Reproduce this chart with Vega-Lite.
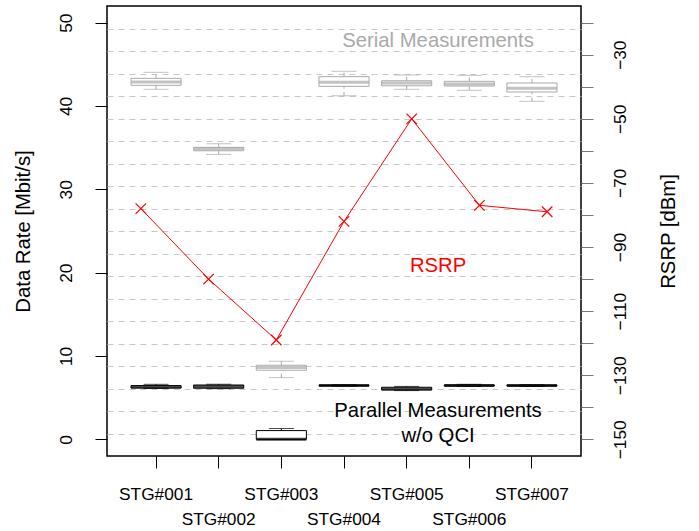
{
  "$schema": "https://vega.github.io/schema/vega-lite/v6.json",
  "width": 474,
  "height": 450,
  "autosize": {"type": "none"},
  "padding": {"left": 107, "top": 6, "right": 118, "bottom": 75},
  "background": "white",
  "config": {
    "font": "Liberation Sans",
    "view": {"stroke": "black", "strokeWidth": 1.5},
    "axis": {
      "labelFont": "Liberation Sans",
      "titleFont": "Liberation Sans",
      "labelColor": "black",
      "titleColor": "black",
      "tickColor": "black",
      "labelFontSize": 17.3,
      "titleFontSize": 20.3,
      "titleFontWeight": "normal"
    }
  },
  "datasets": {
    "boxes": [
      {"stg": "STG#001", "series": "Serial", "lower": 42.0, "q1": 42.48, "median": 42.88, "q3": 43.32, "upper": 44.04},
      {"stg": "STG#002", "series": "Serial", "lower": 34.19, "q1": 34.63, "median": 34.87, "q3": 35.03, "upper": 35.47},
      {"stg": "STG#003", "series": "Serial", "lower": 7.41, "q1": 8.29, "median": 8.61, "q3": 8.89, "upper": 9.37},
      {"stg": "STG#004", "series": "Serial", "lower": 41.23, "q1": 42.36, "median": 42.84, "q3": 43.52, "upper": 44.16},
      {"stg": "STG#005", "series": "Serial", "lower": 42.0, "q1": 42.43, "median": 42.76, "q3": 43.03, "upper": 43.72},
      {"stg": "STG#006", "series": "Serial", "lower": 41.88, "q1": 42.4, "median": 42.64, "q3": 42.96, "upper": 43.68},
      {"stg": "STG#007", "series": "Serial", "lower": 40.56, "q1": 41.68, "median": 42.12, "q3": 42.76, "upper": 43.52},
      {"stg": "STG#001", "series": "Parallel", "lower": 6.1, "q1": 6.16, "median": 6.28, "q3": 6.45, "upper": 6.6},
      {"stg": "STG#002", "series": "Parallel", "lower": 6.08, "q1": 6.13, "median": 6.33, "q3": 6.52, "upper": 6.61},
      {"stg": "STG#003", "series": "Parallel", "lower": 0, "q1": 0, "median": 0, "q3": 1.05, "upper": 1.3},
      {"stg": "STG#004", "series": "Parallel", "lower": 6.38, "q1": 6.42, "median": 6.46, "q3": 6.5, "upper": 6.55},
      {"stg": "STG#005", "series": "Parallel", "lower": 5.85, "q1": 5.93, "median": 6.05, "q3": 6.25, "upper": 6.35},
      {"stg": "STG#006", "series": "Parallel", "lower": 6.35, "q1": 6.4, "median": 6.45, "q3": 6.52, "upper": 6.6},
      {"stg": "STG#007", "series": "Parallel", "lower": 6.35, "q1": 6.4, "median": 6.45, "q3": 6.5, "upper": 6.55}
    ],
    "rsrp": [
      {"stg": "STG#001", "rsrp": -78},
      {"stg": "STG#002", "rsrp": -100},
      {"stg": "STG#003", "rsrp": -119},
      {"stg": "STG#004", "rsrp": -82},
      {"stg": "STG#005", "rsrp": -50},
      {"stg": "STG#006", "rsrp": -77},
      {"stg": "STG#007", "rsrp": -79}
    ],
    "notes": [
      {"note": "Serial Measurements", "pos": 5.5, "rate": 47.8},
      {"note": "RSRP", "pos": 5.5, "rate": 20.8},
      {"note": "Parallel Measurements\nw/o QCI", "pos": 5.5, "rate": 3.45}
    ]
  },
  "layer": [
    {
      "data": {"name": "boxes"},
      "encoding": {
        "x": {
          "field": "stg", "type": "nominal",
          "scale": {"paddingInner": 0.2, "paddingOuter": 0.383},
          "axis": {
            "title": null, "labelAngle": 0, "labelAlign": "center", "labelBaseline": "alphabetic",
            "tickSize": 12, "labelPadding": 31, "domain": false, "grid": false,
            "labelOverlap": false, "labelBound": false, "labelFlush": false, "labelLineHeight": 25,
            "labelExpr": "toNumber(substring(datum.value, 4)) % 2 == 0 ? ['', datum.value] : datum.value"
          }
        }
      },
      "layer": [
        {
          "mark": {"type": "rule", "strokeDash": [4, 3], "strokeWidth": 1},
          "encoding": {
            "y": {"field": "lower", "type": "quantitative", "scale": {"domain": [-2, 52], "nice": false, "zero": false},
              "axis": {"title": "Data Rate [Mbit/s]", "values": [0, 0.7, 3.4, 6.1, 8.8, 10, 11.5, 14.2, 16.9, 19.6, 20, 22.3, 25, 27.7, 30, 30.4, 33.1, 35.8, 38.5, 40, 41.2, 43.9, 46.6, 49.3, 50], "labelExpr": "datum.value % 10 == 0 ? datum.label : ''", "grid": true, "gridDash": [6, 5], "gridColor": "#c8c8c8", "gridWidth": 1, "gridOpacity": {"condition": {"test": "datum.value % 10 == 0", "value": 0}, "value": 1}, "tickOpacity": {"condition": {"test": "datum.value % 10 == 0", "value": 1}, "value": 0}, "domain": false, "tickSize": 12, "labelAngle": -90, "labelAlign": "center", "labelBaseline": "middle", "labelPadding": 29, "labelOverlap": false, "labelBound": false, "labelFlush": false, "titleAngle": -90, "titleAlign": "center", "titleBaseline": "middle", "titleX": -84, "titleY": 225}},
            "y2": {"field": "q1"},
            "color": {"field": "series", "type": "nominal", "scale": {"domain": ["Serial", "Parallel"], "range": ["#a9a9a9", "#000000"]}, "legend": null}
          }
        },
        {
          "mark": {"type": "rule", "strokeDash": [4, 3], "strokeWidth": 1},
          "encoding": {
            "y": {"field": "q3", "type": "quantitative", "scale": {"domain": [-2, 52], "nice": false, "zero": false},
              "axis": {"title": "Data Rate [Mbit/s]", "values": [0, 0.7, 3.4, 6.1, 8.8, 10, 11.5, 14.2, 16.9, 19.6, 20, 22.3, 25, 27.7, 30, 30.4, 33.1, 35.8, 38.5, 40, 41.2, 43.9, 46.6, 49.3, 50], "labelExpr": "datum.value % 10 == 0 ? datum.label : ''", "grid": true, "gridDash": [6, 5], "gridColor": "#c8c8c8", "gridWidth": 1, "gridOpacity": {"condition": {"test": "datum.value % 10 == 0", "value": 0}, "value": 1}, "tickOpacity": {"condition": {"test": "datum.value % 10 == 0", "value": 1}, "value": 0}, "domain": false, "tickSize": 12, "labelAngle": -90, "labelAlign": "center", "labelBaseline": "middle", "labelPadding": 29, "labelOverlap": false, "labelBound": false, "labelFlush": false, "titleAngle": -90, "titleAlign": "center", "titleBaseline": "middle", "titleX": -84, "titleY": 225}},
            "y2": {"field": "upper"},
            "color": {"field": "series", "type": "nominal", "scale": {"domain": ["Serial", "Parallel"], "range": ["#a9a9a9", "#000000"]}, "legend": null}
          }
        },
        {
          "mark": {"type": "tick", "size": 25, "thickness": 1},
          "encoding": {
            "y": {"field": "lower", "type": "quantitative", "scale": {"domain": [-2, 52], "nice": false, "zero": false},
              "axis": {"title": "Data Rate [Mbit/s]", "values": [0, 0.7, 3.4, 6.1, 8.8, 10, 11.5, 14.2, 16.9, 19.6, 20, 22.3, 25, 27.7, 30, 30.4, 33.1, 35.8, 38.5, 40, 41.2, 43.9, 46.6, 49.3, 50], "labelExpr": "datum.value % 10 == 0 ? datum.label : ''", "grid": true, "gridDash": [6, 5], "gridColor": "#c8c8c8", "gridWidth": 1, "gridOpacity": {"condition": {"test": "datum.value % 10 == 0", "value": 0}, "value": 1}, "tickOpacity": {"condition": {"test": "datum.value % 10 == 0", "value": 1}, "value": 0}, "domain": false, "tickSize": 12, "labelAngle": -90, "labelAlign": "center", "labelBaseline": "middle", "labelPadding": 29, "labelOverlap": false, "labelBound": false, "labelFlush": false, "titleAngle": -90, "titleAlign": "center", "titleBaseline": "middle", "titleX": -84, "titleY": 225}},
            "color": {"field": "series", "type": "nominal", "scale": {"domain": ["Serial", "Parallel"], "range": ["#a9a9a9", "#000000"]}, "legend": null}
          }
        },
        {
          "mark": {"type": "tick", "size": 25, "thickness": 1},
          "encoding": {
            "y": {"field": "upper", "type": "quantitative", "scale": {"domain": [-2, 52], "nice": false, "zero": false},
              "axis": {"title": "Data Rate [Mbit/s]", "values": [0, 0.7, 3.4, 6.1, 8.8, 10, 11.5, 14.2, 16.9, 19.6, 20, 22.3, 25, 27.7, 30, 30.4, 33.1, 35.8, 38.5, 40, 41.2, 43.9, 46.6, 49.3, 50], "labelExpr": "datum.value % 10 == 0 ? datum.label : ''", "grid": true, "gridDash": [6, 5], "gridColor": "#c8c8c8", "gridWidth": 1, "gridOpacity": {"condition": {"test": "datum.value % 10 == 0", "value": 0}, "value": 1}, "tickOpacity": {"condition": {"test": "datum.value % 10 == 0", "value": 1}, "value": 0}, "domain": false, "tickSize": 12, "labelAngle": -90, "labelAlign": "center", "labelBaseline": "middle", "labelPadding": 29, "labelOverlap": false, "labelBound": false, "labelFlush": false, "titleAngle": -90, "titleAlign": "center", "titleBaseline": "middle", "titleX": -84, "titleY": 225}},
            "color": {"field": "series", "type": "nominal", "scale": {"domain": ["Serial", "Parallel"], "range": ["#a9a9a9", "#000000"]}, "legend": null}
          }
        },
        {
          "mark": {"type": "bar", "fill": "white", "strokeWidth": 1},
          "encoding": {
            "y": {"field": "q1", "type": "quantitative", "scale": {"domain": [-2, 52], "nice": false, "zero": false},
              "axis": {"title": "Data Rate [Mbit/s]", "values": [0, 0.7, 3.4, 6.1, 8.8, 10, 11.5, 14.2, 16.9, 19.6, 20, 22.3, 25, 27.7, 30, 30.4, 33.1, 35.8, 38.5, 40, 41.2, 43.9, 46.6, 49.3, 50], "labelExpr": "datum.value % 10 == 0 ? datum.label : ''", "grid": true, "gridDash": [6, 5], "gridColor": "#c8c8c8", "gridWidth": 1, "gridOpacity": {"condition": {"test": "datum.value % 10 == 0", "value": 0}, "value": 1}, "tickOpacity": {"condition": {"test": "datum.value % 10 == 0", "value": 1}, "value": 0}, "domain": false, "tickSize": 12, "labelAngle": -90, "labelAlign": "center", "labelBaseline": "middle", "labelPadding": 29, "labelOverlap": false, "labelBound": false, "labelFlush": false, "titleAngle": -90, "titleAlign": "center", "titleBaseline": "middle", "titleX": -84, "titleY": 225}},
            "y2": {"field": "q3"},
            "stroke": {"field": "series", "type": "nominal", "scale": {"domain": ["Serial", "Parallel"], "range": ["#a9a9a9", "#000000"]}, "legend": null}
          }
        },
        {
          "mark": {"type": "tick", "size": 50, "thickness": 3},
          "encoding": {
            "y": {"field": "median", "type": "quantitative", "scale": {"domain": [-2, 52], "nice": false, "zero": false},
              "axis": {"title": "Data Rate [Mbit/s]", "values": [0, 0.7, 3.4, 6.1, 8.8, 10, 11.5, 14.2, 16.9, 19.6, 20, 22.3, 25, 27.7, 30, 30.4, 33.1, 35.8, 38.5, 40, 41.2, 43.9, 46.6, 49.3, 50], "labelExpr": "datum.value % 10 == 0 ? datum.label : ''", "grid": true, "gridDash": [6, 5], "gridColor": "#c8c8c8", "gridWidth": 1, "gridOpacity": {"condition": {"test": "datum.value % 10 == 0", "value": 0}, "value": 1}, "tickOpacity": {"condition": {"test": "datum.value % 10 == 0", "value": 1}, "value": 0}, "domain": false, "tickSize": 12, "labelAngle": -90, "labelAlign": "center", "labelBaseline": "middle", "labelPadding": 29, "labelOverlap": false, "labelBound": false, "labelFlush": false, "titleAngle": -90, "titleAlign": "center", "titleBaseline": "middle", "titleX": -84, "titleY": 225}},
            "color": {"field": "series", "type": "nominal", "scale": {"domain": ["Serial", "Parallel"], "range": ["#a9a9a9", "#000000"]}, "legend": null}
          }
        }
      ]
    },
    {
      "data": {"name": "rsrp"},
      "encoding": {
        "x": {"field": "stg", "type": "nominal", "scale": {"paddingInner": 0.2, "paddingOuter": 0.383}, "axis": null},
        "y": {
          "field": "rsrp", "type": "quantitative",
          "scale": {"domain": [-155.2, -14.8], "nice": false, "zero": false},
          "axis": {
            "orient": "right", "title": "RSRP [dBm]",
            "values": [-150, -140, -130, -120, -110, -100, -90, -80, -70, -60, -50, -40, -30, -20],
            "labelExpr": "(datum.value + 150) % 20 == 0 ? datum.label : ''",
            "grid": false, "domain": false, "tickSize": 12, "tickColor": "#777777",
            "labelAngle": -90, "labelAlign": "center", "labelBaseline": "middle", "labelPadding": 27,
            "labelOverlap": false, "labelBound": false, "labelFlush": false,
            "titleAngle": -90, "titleAlign": "center", "titleBaseline": "middle", "titleX": 87, "titleY": 225
          }
        }
      },
      "layer": [
        {"mark": {"type": "line", "color": "red", "strokeWidth": 1}},
        {"mark": {"type": "point", "shape": "M-1,-1L1,1M-1,1L1,-1", "filled": false, "color": "red", "strokeWidth": 1.2, "size": 110, "opacity": 1}}
      ]
    },
    {
      "data": {"name": "notes"},
      "mark": {"type": "text", "fontSize": 20.3, "lineBreak": "\n", "lineHeight": 25.5, "baseline": "middle", "align": "center"},
      "encoding": {
        "x": {"field": "pos", "type": "quantitative", "scale": {"domain": [0.22, 7.78], "nice": false, "zero": false}, "axis": null},
        "y": {"field": "rate", "type": "quantitative", "scale": {"domain": [-2, 52], "nice": false, "zero": false}, "axis": null},
        "text": {"field": "note"},
        "color": {"field": "note", "type": "nominal", "scale": {"domain": ["Serial Measurements", "RSRP", "Parallel Measurements\nw/o QCI"], "range": ["#a9a9a9", "#ff0000", "#000000"]}, "legend": null}
      }
    }
  ],
  "resolve": {"scale": {"x": "independent", "y": "independent", "color": "independent"}}
}
